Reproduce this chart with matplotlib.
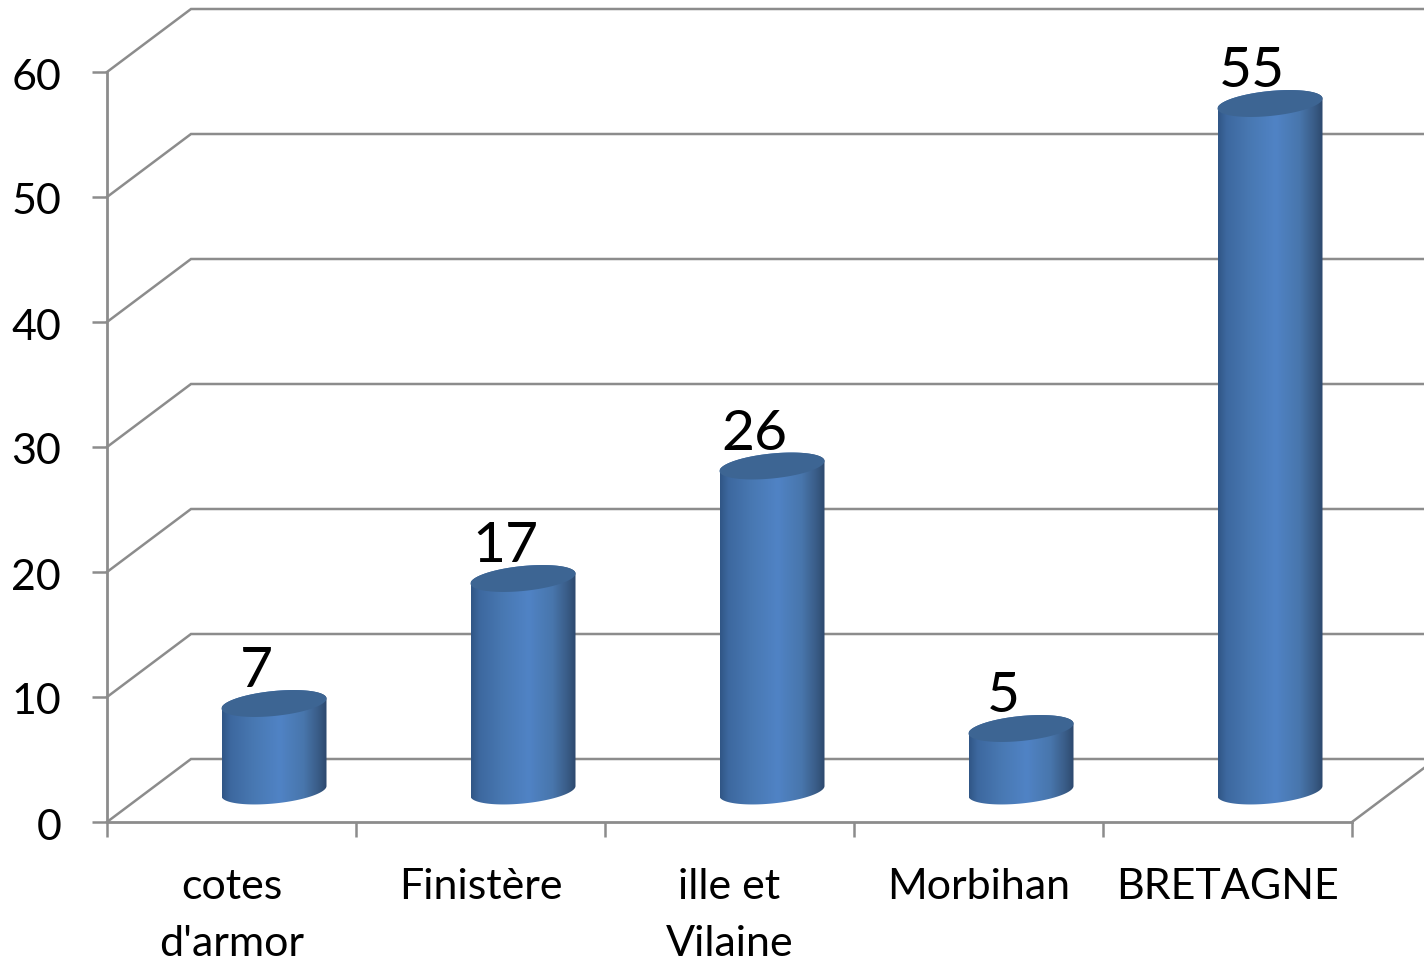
import numpy as np
import matplotlib
matplotlib.use("Agg")
import matplotlib.pyplot as plt
from matplotlib.colors import LinearSegmentedColormap
from matplotlib.patches import Polygon
from matplotlib.transforms import ScaledTranslation

plt.rcParams["font.family"] = ["Lato", "DejaVu Sans"]

categories = ["cotes\nd'armor", "Finistère", "ille et\nVilaine", "Morbihan", "BRETAGNE"]
values = [7, 17, 26, 5, 55]
y_ticks = [0, 10, 20, 30, 40, 50, 60]

GREY = "#8c8c8c"
W, H = 1424, 963
# 3d depth of the chart box, in data units
DX = 84 / 249
DY = 63 / 12.5
# cylinder shape
A = 52.5 / 249
B = 1.0
TILT = 0.4

shade = LinearSegmentedColormap.from_list(
    "cyl", [(0, "#305686"), (0.08, "#3d689f"), (0.3, "#4878b2"), (0.55, "#5083c5"),
            (0.78, "#4876ac"), (0.93, "#385a84"), (1, "#2d486e")])


def ellipse(cx, cy, t):
    return cx + A * np.cos(t), cy + B * np.sin(t) + TILT * np.cos(t)


fig = plt.figure(figsize=(W / 100, H / 100), dpi=100)
ax = fig.add_axes([107 / W, 1 - 822 / H, (1352 - 107) / W, 750 / H])
ax.set_zorder(1)

# back wall and left wall
for v in y_ticks:
    ax.plot([0, DX, 5 + DX], [v, v + DY, v + DY], color=GREY, lw=1.8,
            clip_on=False, zorder=1, solid_joinstyle="miter")
ax.plot([5, 5 + DX], [0, DY], color=GREY, lw=1.8, clip_on=False, zorder=1)

# cylinders
for i, v in enumerate(values):
    cx = i + 0.5 + DX / 2 + 0.5 / 249
    y0 = DY / 2 - 0.04
    y1 = y0 + v
    t_low = np.linspace(np.pi, 2 * np.pi, 80)
    t_high = np.linspace(0, np.pi, 80)
    xb, yb = ellipse(cx, y0, t_low)
    xt, yt = ellipse(cx, y1, t_high)
    verts = np.column_stack([np.r_[xb, xt], np.r_[yb, yt]])
    body = Polygon(verts, closed=True, transform=ax.transData, fc="none", ec="none")
    ax.add_patch(body)
    im = ax.imshow(np.linspace(0, 1, 256)[None, :], cmap=shade, aspect="auto",
                   extent=[cx - A, cx + A, y0 - 2, y1 + 2], zorder=2, clip_on=True)
    im.set_clip_path(body)

    t = np.linspace(0, 2 * np.pi, 160)
    xe, ye = ellipse(cx, y1, t)
    ax.fill(xe, ye, color="#3d6593", lw=0, zorder=3, clip_on=False)

    ax.text(cx - 18 / 249, y1 + 1.3, str(v), fontsize=41, ha="center", va="baseline",
            color="black", zorder=4)

ax.set_xlim(0, 5)
ax.set_ylim(0, 60)
ax.patch.set_visible(False)
for s in ["top", "right"]:
    ax.spines[s].set_visible(False)
for s in ["left", "bottom"]:
    ax.spines[s].set_color(GREY)
    ax.spines[s].set_linewidth(2.0)

ax.set_yticks(y_ticks)
ax.tick_params(axis="y", length=11, width=1.8, color=GREY, pad=22, labelsize=31)
down = ScaledTranslation(0, -2 / 100, fig.dpi_scale_trans)
for lab in ax.get_yticklabels():
    lab.set_transform(lab.get_transform() + down)
ax.set_xticks(range(6))
ax.set_xticklabels([])
ax.set_xticks(np.arange(5) + 0.5, minor=True)
ax.set_xticklabels(categories, minor=True, fontsize=31, linespacing=1.62)
ax.tick_params(axis="x", which="major", length=11, width=1.8, color=GREY)
ax.tick_params(axis="x", which="minor", length=0, pad=33)

fig.savefig("out.png", dpi=100)
